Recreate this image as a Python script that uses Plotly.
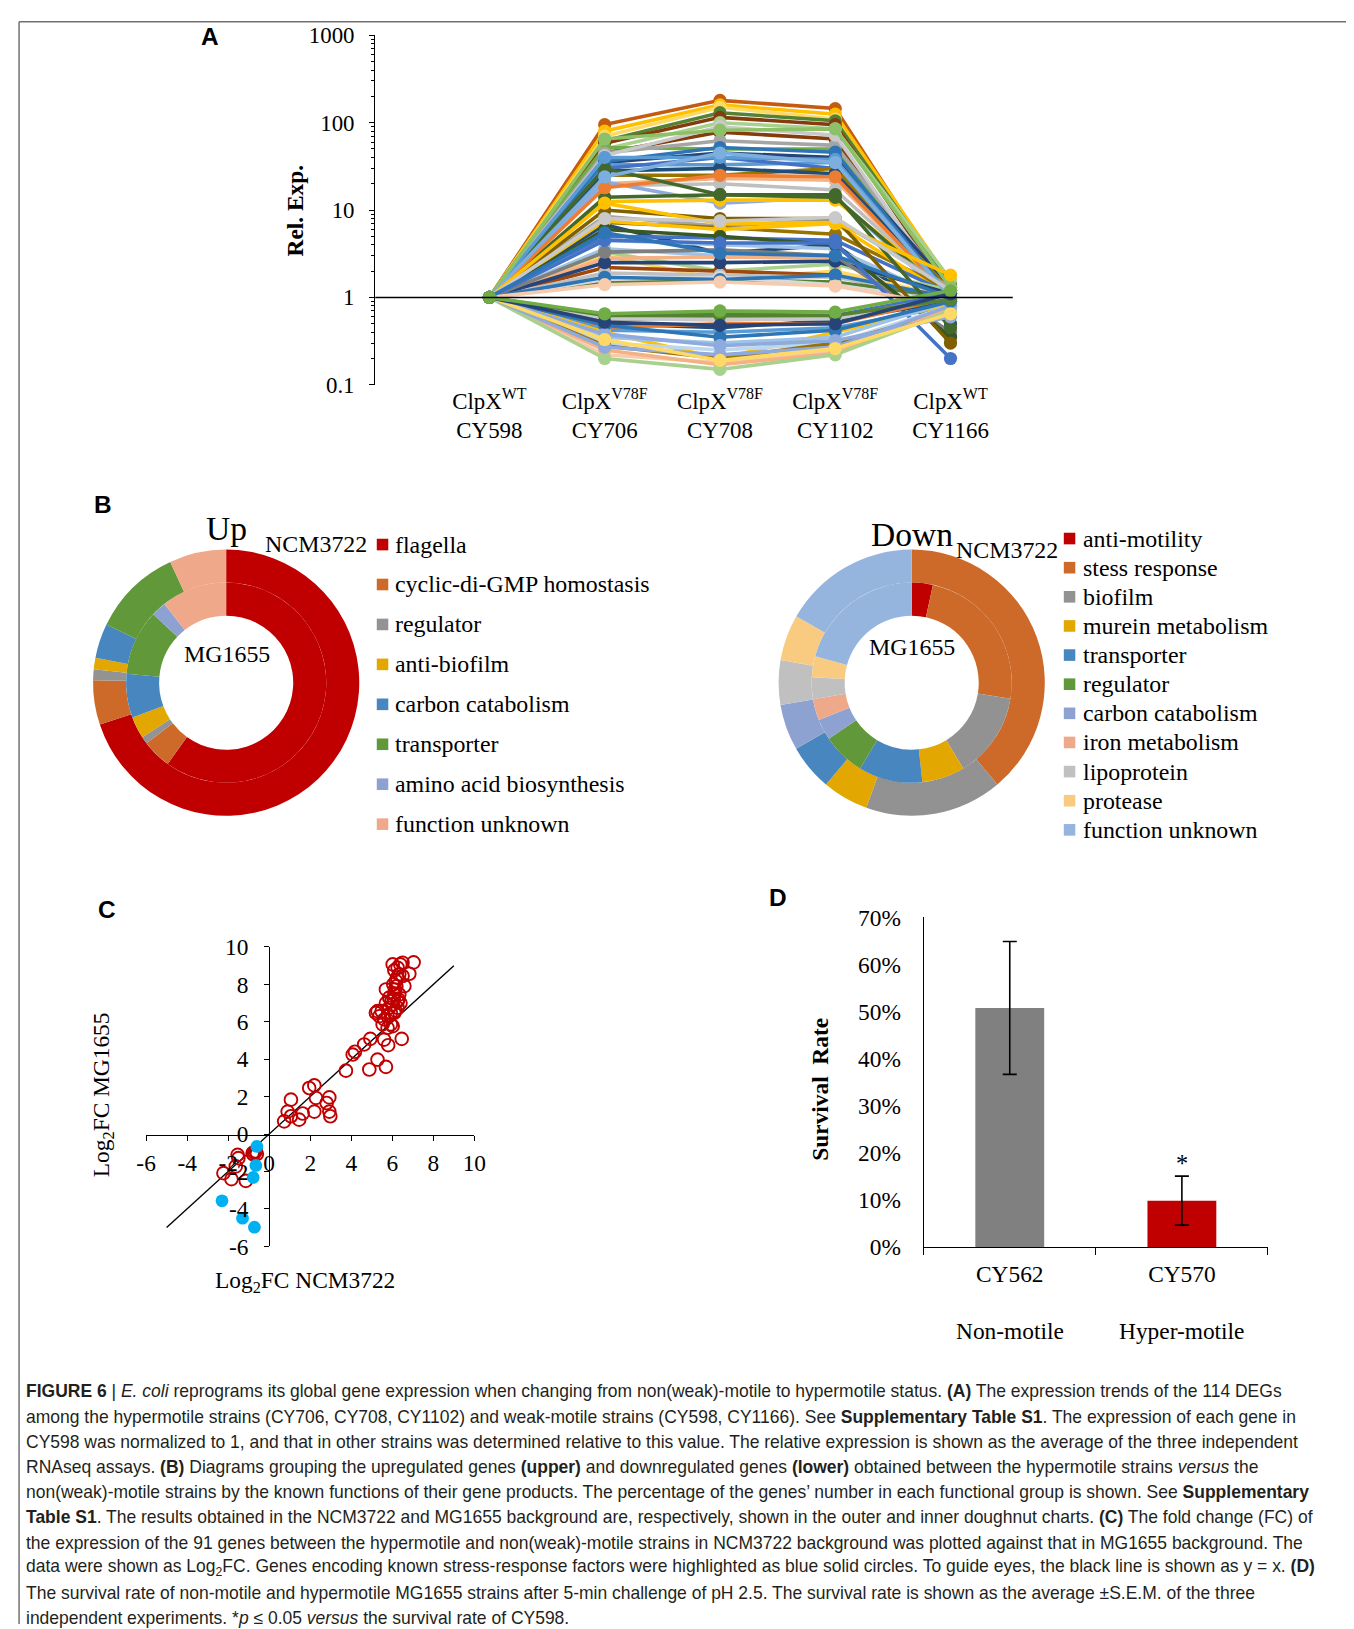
import plotly.graph_objects as go

# The page shows the figure slightly scaled and offset; positions below are given in
# target-window pixels and converted to paper coordinates with that measured mapping.
FW, FH = 1354, 1629
S = 0.983
OX, OY = 19.0, 20.0
def px(x): return (x - OX) / S / FW
def py(y): return 1 - (y - OY) / S / FH
def fs(v): return v / S

SERIF = "Liberation Serif"
SANS = "Liberation Sans"

# ---------------- Panel A data ----------------
strains = ["CY598", "CY706", "CY708", "CY1102", "CY1166"]
genotypes = ["WT", "V78F", "V78F", "V78F", "WT"]

up_expr = [
    [1, 95, 180, 145, 1.3], [1, 80, 160, 125, 1.5], [1, 70, 150, 110, 1.2], [1, 62, 130, 105, 1.4],
    [1, 58, 115, 95, 1.1], [1, 50, 100, 85, 1.6], [1, 45, 78, 65, 0.9], [1, 52, 50, 50, 1.1],
    [1, 45, 62, 55, 1.2], [1, 42, 90, 72, 1.0], [1, 35, 45, 40, 1.3], [1, 33, 33, 35, 1.1],
    [1, 30, 40, 30, 0.8], [1, 25, 25, 30, 1.2], [1, 20, 23, 22, 1.0], [1, 19, 20, 17, 1.1],
    [1, 21, 12, 14, 0.9], [1, 12.5, 13, 13, 1.2], [1, 14, 15, 14, 1.0], [1, 28, 30, 26, 1.1],
    [1, 36, 52, 46, 1.0], [1, 18, 25, 24, 1.0], [1, 8.5, 6.5, 7.8, 1.3], [1, 7.2, 6.3, 5.3, 1.2],
    [1, 6.8, 3.2, 4.0, 0.5], [1, 7.5, 6.0, 7.0, 1.0], [1, 5.0, 4.8, 4.5, 1.1], [1, 4.5, 4.0, 3.6, 0.9],
    [1, 3.6, 3.0, 3.0, 1.0], [1, 3.0, 1.6, 2.0, 1.0], [1, 3.3, 2.0, 2.4, 1.2], [1, 2.8, 2.9, 2.8, 1.0],
    [1, 2.2, 2.0, 1.8, 0.8], [1, 1.9, 1.8, 1.7, 1.0], [1, 1.5, 1.6, 1.5, 1.0], [1, 1.6, 1.7, 1.4, 0.9],
    [1, 2.5, 2.5, 2.6, 1.1], [1, 1.7, 1.6, 1.8, 1.0], [1, 3.3, 3.5, 3.0, 0.4], [1, 6.0, 5.0, 4.0, 0.35],
    [1, 10, 8, 8, 0.3], [1, 30, 15, 15, 0.45], [1, 4.5, 4.2, 4.2, 0.2], [1, 1.4, 1.5, 1.35, 0.8],
    [1, 40, 40, 38, 1.0], [1, 65, 82, 85, 1.3], [1, 24, 45, 35, 1.0], [1, 12, 7, 7.2, 1.8],
    [1, 8, 7.5, 8.2, 1.2], [1, 5.5, 3.2, 3.0, 1.0],
]
down_expr = [
    [1, 0.22, 0.18, 0.25, 0.78], [1, 0.6, 0.65, 0.62, 1.1], [1, 0.55, 0.6, 0.6, 1.0], [1, 0.5, 0.45, 0.55, 0.9],
    [1, 0.45, 0.5, 0.5, 1.0], [1, 0.42, 0.4, 0.45, 0.8], [1, 0.4, 0.2, 0.4, 0.85], [1, 0.35, 0.3, 0.35, 0.9],
    [1, 0.3, 0.25, 0.3, 0.8], [1, 0.28, 0.2, 0.3, 0.7], [1, 0.25, 0.17, 0.23, 0.75], [1, 0.2, 0.15, 0.22, 0.7],
    [1, 0.27, 0.22, 0.27, 0.8], [1, 0.58, 0.55, 0.57, 1.0], [1, 0.48, 0.35, 0.42, 0.9], [1, 0.62, 0.62, 0.62, 0.95],
    [1, 0.38, 0.28, 0.32, 0.6], [1, 0.33, 0.19, 0.26, 0.65], [1, 0.52, 0.48, 0.5, 1.1], [1, 0.65, 0.7, 0.68, 1.2],
]
up_colors = [
    "#C55A11", "#FFC000", "#FFD966", "#548235", "#843C0C", "#A9D18E", "#843C0C", "#70AD47", "#A5A5A5", "#C9C9C9",
    "#264478", "#5B9BD5", "#4472C4", "#997300", "#F4B183", "#BFBFBF", "#8FAADC", "#FFC000", "#43682B", "#1F4E79",
    "#2E75B6", "#ED7D31", "#A5A5A5", "#997300", "#1F4E79", "#FFC000", "#4472C4", "#9DC3E6", "#9DC3E6", "#FFD966",
    "#A9D18E", "#F4B183", "#9E480E", "#BFBFBF", "#548235", "#D9D9D9", "#264478", "#2E75B6", "#7F7F7F", "#385723",
    "#7F6000", "#43682B", "#4472C4", "#F8CBAD", "#5B9BD5", "#8CC168", "#7CAFDD", "#FFC000", "#C9C9C9", "#2E75B6",
]
down_colors = [
    "#F8CBAD", "#4472C4", "#A5A5A5", "#1F4E79", "#ED7D31", "#5B9BD5", "#FFC000", "#9DC3E6", "#BDD7EE", "#997300",
    "#F4B183", "#A9D18E", "#8FAADC", "#C9C9C9", "#2E75B6", "#548235", "#8FAADC", "#FFD966", "#264478", "#70AD47",
]

# ---------------- Panel B data ----------------
up_labels = ["flagella", "cyclic-di-GMP homostasis", "regulator", "anti-biofilm", "carbon catabolism",
             "transporter", "amino acid biosynthesis", "function unknown"]
up_outer_ncm3722 = [69.9, 5.4, 1.3, 1.4, 4.2, 10.9, 0.0, 6.9]
up_inner_mg1655 = [60.0, 4.7, 1.2, 3.5, 7.1, 10.6, 2.4, 10.6]
up_colors_b = ["#C00000", "#CD6A29", "#939393", "#E2A700", "#4886BF", "#60983A", "#8EA2D2", "#F0A88A"]

down_labels = ["anti-motility", "stess response", "biofilm", "murein metabolism", "transporter", "regulator",
               "carbon catabolism", "iron metabolism", "lipoprotein", "protease", "function unknown"]
down_outer_ncm3722 = [0.0, 38.9, 16.7, 5.6, 5.6, 0.0, 5.6, 0.0, 5.4, 5.6, 16.7]
down_inner_mg1655 = [3.4, 24.1, 13.8, 6.9, 10.3, 6.9, 3.4, 3.4, 3.5, 3.4, 20.7]
down_colors_b = ["#C00000", "#CD6A29", "#929292", "#E2A700", "#4886BF", "#60983A", "#8EA2D2", "#EEA88A",
                 "#C0C0C0", "#F9CB80", "#95B5DE"]

# ---------------- Panel C data ----------------
red_x = [0.73, 0.9, 1.06, 1.06, 1.46, 1.63, 1.95, 2.2, 2.2, 2.28, 2.8, 2.93, 2.93, 2.98, 3.74, 4.07, 4.18,
         4.63, 4.93, 4.88, 5.28, 5.69, 5.6, 5.8, 6.46, 5.2, 5.28, 5.37, 5.53, 5.69, 5.85, 5.93, 6.02, 5.77,
         5.61, 5.85, 6.02, 6.07, 6.1, 6.13, 6.18, 6.02, 6.1, 6.26, 6.39, 6.5, 6.34, 6.23, 6.5, 6.59, 6.83,
         7.04, 6.26, 6.34, 5.93, 6.1, 6.26, 5.77, 5.69, 5.48, 6.15, 6.3, 6.4, 5.95, 6.05, 6.2,
         -1.54, -1.5, -1.63, -2.23, -1.84, -1.14, -0.81, -0.73, -0.65, -0.6, -0.76]
red_y = [0.68, 1.2, 1.84, 0.95, 0.77, 1.1, 2.46, 2.6, 1.2, 1.93, 1.66, 1.96, 1.2, 0.95, 3.39, 4.25, 4.4,
         4.79, 5.09, 3.45, 3.98, 3.59, 5.05, 4.75, 5.09, 6.48, 6.57, 6.3, 5.86, 7.73, 7.29, 5.86, 5.77, 5.68,
         6.13, 6.75, 6.93, 7.2, 7.46, 7.73, 8.18, 9.07, 8.75, 8.89, 9.07, 9.16, 8.54, 8.36, 8.45, 7.91, 8.57,
         9.18, 7.1, 7.46, 6.48, 6.48, 6.75, 6.3, 7.0, 6.57, 6.6, 7.2, 7.0, 7.1, 8.0, 7.9,
         -1.11, -1.29, -1.73, -2.09, -2.41, -2.5, -1.02, -0.96, -0.93, -1.07, -1.1]
blue_x = [-0.6, -0.65, -0.78, -2.3, -1.3, -0.72]
blue_y = [-0.66, -1.68, -2.32, -3.57, -4.5, -4.98]
guide_x = [-5, 9]
c_ticks = [-6, -4, -2, 0, 2, 4, 6, 8, 10]

# ---------------- Panel D data ----------------
samples = ["CY562", "CY570"]
phenotypes = ["Non-motile", "Hyper-motile"]
survival = [50.8, 9.9]
survival_sem = [14.1, 5.2]
bar_colors = ["#808080", "#C00000"]

fig = go.Figure()

# ---- Panel A traces ----
for vals, col in zip(up_expr + down_expr, up_colors + down_colors):
    fig.add_trace(go.Scatter(x=strains, y=vals, mode="lines+markers",
                             line=dict(color=col, width=fs(3.5)), marker=dict(color=col, size=fs(13)),
                             xaxis="x", yaxis="y", showlegend=False, hoverinfo="skip"))

# ---- Panel B pies ----
def pie(vals, labels, colors, cx, cy, r, hole):
    return go.Pie(values=vals, labels=labels, marker=dict(colors=colors, line=dict(width=0)),
                  sort=False, direction="clockwise", rotation=0, textinfo="none", hole=hole,
                  showlegend=False, hoverinfo="label+percent",
                  domain=dict(x=[px(cx - r), px(cx + r)], y=[py(cy + r), py(cy - r)]))

fig.add_trace(pie(up_outer_ncm3722, up_labels, up_colors_b, 227, 681, 133, 100 / 133))
fig.add_trace(pie(up_inner_mg1655, up_labels, up_colors_b, 227, 681, 100, 0.67))
fig.add_trace(pie(down_outer_ncm3722, down_labels, down_colors_b, 912, 681, 133, 100 / 133))
fig.add_trace(pie(down_inner_mg1655, down_labels, down_colors_b, 912, 681, 100, 0.67))

# ---- Panel C traces ----
fig.add_trace(go.Scatter(x=guide_x, y=guide_x, mode="lines", line=dict(color="black", width=1.4),
                         xaxis="x2", yaxis="y2", showlegend=False, hoverinfo="skip"))
fig.add_trace(go.Scatter(x=red_x, y=red_y, mode="markers",
                         marker=dict(symbol="circle-open", size=fs(12.5), color="#C00000", line=dict(width=1.9)),
                         xaxis="x2", yaxis="y2", showlegend=False))
fig.add_trace(go.Scatter(x=blue_x, y=blue_y, mode="markers",
                         marker=dict(symbol="circle", size=fs(12.5), color="#00B0F0"),
                         xaxis="x2", yaxis="y2", showlegend=False))

# ---- Panel D ----
fig.add_trace(go.Bar(x=samples, y=survival, width=0.4, marker=dict(color=bar_colors, line=dict(width=0)),
                     error_y=dict(type="data", array=survival_sem, color="black", thickness=1.6, width=7),
                     xaxis="x3", yaxis="y3", showlegend=False))

# ---- axes ----
A_top, A_bot = 34.3, 383.4
tf = dict(family=SERIF, size=fs(22.5), color="black")
fig.update_layout(
    xaxis=dict(domain=[px(376), px(1013)], range=[-0.99, 4.54], type="category", anchor="y",
               tickvals=strains, ticktext=[f"ClpX<sup>{g}</sup><br>{s}" for g, s in zip(genotypes, strains)],
               showline=False, showgrid=False, zeroline=False, ticks="", ticklabelstandoff=0,
               tickfont=dict(family=SERIF, size=fs(22.5), color="black")),
    yaxis=dict(domain=[py(A_bot), py(A_top)], type="log", range=[-1, 3], dtick=1, exponentformat="none",
               anchor="x", showline=True, linecolor="black", linewidth=1.3, ticks="outside", ticklen=5,
               tickcolor="black", showgrid=False, zeroline=False, tickfont=tf, ticklabelstandoff=10,
               minor=dict(ticks="outside", ticklen=3, tickcolor="black", showgrid=False)),
    xaxis2=dict(domain=[px(147), px(475)], range=[-6, 10], anchor="free",
                position=py(1132.7), tickvals=c_ticks, ticktext=[str(t) for t in c_ticks],
                showline=True, linecolor="black", linewidth=1.3, ticks="outside", ticklen=5,
                tickcolor="black", showgrid=False, zeroline=False, ticklabelstandoff=2,
                tickfont=dict(family=SERIF, size=fs(23), color="black")),
    yaxis2=dict(domain=[py(1244), py(945)], range=[-6, 10], anchor="free", position=px(270),
                tickvals=c_ticks, ticktext=[str(t) for t in c_ticks],
                showline=True, linecolor="black", linewidth=1.3, ticks="outside", ticklen=5,
                tickcolor="black", showgrid=False, zeroline=False, ticklabelstandoff=11,
                tickfont=dict(family=SERIF, size=fs(23), color="black")),
    xaxis3=dict(domain=[px(924), px(1268)], type="category", range=[-0.5, 1.5], anchor="y3",
                showline=True, linecolor="black", linewidth=1.3, ticks="outside", tickson="boundaries",
                ticklen=7, tickcolor="black", showgrid=False, zeroline=False, ticklabelstandoff=5,
                tickfont=dict(family=SERIF, size=fs(23), color="black")),
    yaxis3=dict(domain=[py(1245), py(915.5)], range=[0, 70], dtick=10, ticksuffix="%", anchor="x3",
                showline=True, linecolor="black", linewidth=1.3, ticks="", showgrid=False, zeroline=False,
                ticklabelstandoff=17, tickfont=dict(family=SERIF, size=fs(23), color="black")),
)

shapes = []
anns = []

# horizontal reference line at Rel. Exp. = 1 (log10(1)=0 within range [-1, 3])
y_one = A_bot - (0 - (-1)) / 4 * (A_bot - A_top)
shapes.append(dict(type="line", xref="paper", yref="paper", x0=px(376), x1=px(1013), y0=py(y_one), y1=py(y_one),
                   line=dict(color="black", width=1.5), layer="above"))

# figure border (top, left, right) kept just inside the drawable area
bl, bt, br = 0.0008, 0.9995, px(1347.5)
for (x0, y0, x1, y1) in [(bl, bt, br, bt), (bl, bt, bl, 0), (br, bt, br, 0)]:
    shapes.append(dict(type="line", xref="paper", yref="paper", x0=x0, y0=y0, x1=x1, y1=y1,
                       line=dict(color="#707070", width=1.5)))

def ann(text, x, y, size=23, family=SERIF, bold=False, angle=0, xanchor="center", color="black"):
    if bold:
        text = f"<b>{text}</b>"
    anns.append(dict(text=text, x=px(x), y=py(y), xref="paper", yref="paper", showarrow=False,
                     textangle=angle, xanchor=xanchor, yanchor="middle",
                     font=dict(family=family, size=fs(size), color=color)))

# panel letters
for letter, (lx, ly) in {"A": (211, 35), "B": (104, 503), "C": (108, 908), "D": (778, 896)}.items():
    ann(letter, lx, ly, size=24, family=SANS, bold=True)

# panel A title
ann("Rel. Exp.", 296, 209, size=23, bold=True, angle=-90)

# panel B texts
ann("Up", 227, 527, size=33)
ann("NCM3722", 317, 542, size=23.5)
ann("MG1655", 228, 652, size=23.5)
ann("Down", 912, 533, size=33)
ann("NCM3722", 1007, 548, size=23.5)
ann("MG1655", 912, 645, size=23.5)

for i, (lab, col) in enumerate(zip(up_labels, up_colors_b)):
    yc = 543 + i * 39.9
    shapes.append(dict(type="rect", xref="paper", yref="paper", x0=px(377.5), x1=px(389), y0=py(yc + 5.8), y1=py(yc - 5.8),
                       fillcolor=col, line=dict(width=0)))
    ann(lab, 394, yc, size=23.5, xanchor="left")
for i, (lab, col) in enumerate(zip(down_labels, down_colors_b)):
    yc = 537 + i * 29.1
    shapes.append(dict(type="rect", xref="paper", yref="paper", x0=px(1064), x1=px(1075.5), y0=py(yc + 5.8), y1=py(yc - 5.8),
                       fillcolor=col, line=dict(width=0)))
    ann(lab, 1081, yc, size=23.5, xanchor="left")

# panel C titles
ann("Log<sub>2</sub>FC MG1655", 104, 1093, size=23, angle=-90)
ann("Log<sub>2</sub>FC NCM3722", 306, 1280, size=23)

# panel D texts
ann("Survival  Rate", 821, 1087, size=23, bold=True, angle=-90)
anns.append(dict(text="*", x=samples[1], y=survival[1] + survival_sem[1] + 2.6, xref="x3", yref="y3",
                 showarrow=False, font=dict(family=SERIF, size=fs(24), color="black")))
for s, p in zip(samples, phenotypes):
    anns.append(dict(text=p, x=s, y=py(1329), xref="x3", yref="paper", showarrow=False, yanchor="middle",
                     font=dict(family=SERIF, size=fs(23), color="black")))

# caption
caption = [
    "<b>FIGURE 6</b> | <i>E. coli</i> reprograms its global gene expression when changing from non(weak)-motile to hypermotile status. <b>(A)</b> The expression trends of the 114 DEGs",
    "among the hypermotile strains (CY706, CY708, CY1102) and weak-motile strains (CY598, CY1166). See <b>Supplementary Table S1</b>. The expression of each gene in",
    "CY598 was normalized to 1, and that in other strains was determined relative to this value. The relative expression is shown as the average of the three independent",
    "RNAseq assays. <b>(B)</b> Diagrams grouping the upregulated genes <b>(upper)</b> and downregulated genes <b>(lower)</b> obtained between the hypermotile strains <i>versus</i> the",
    "non(weak)-motile strains by the known functions of their gene products. The percentage of the genes’ number in each functional group is shown. See <b>Supplementary</b>",
    "<b>Table S1</b>. The results obtained in the NCM3722 and MG1655 background are, respectively, shown in the outer and inner doughnut charts. <b>(C)</b> The fold change (FC) of",
    "the expression of the 91 genes between the hypermotile and non(weak)-motile strains in NCM3722 background was plotted against that in MG1655 background. The",
    "data were shown as Log<sub>2</sub>FC. Genes encoding known stress-response factors were highlighted as blue solid circles. To guide eyes, the black line is shown as y = x. <b>(D)</b>",
    "The survival rate of non-motile and hypermotile MG1655 strains after 5-min challenge of pH 2.5. The survival rate is shown as the average ±S.E.M. of the three",
    "independent experiments. *<i>p</i> ≤ 0.05 <i>versus</i> the survival rate of CY598.",
]
for i, line in enumerate(caption):
    ann(line, 25, 1389 + i * 25.15, size=17.2, family=SANS, xanchor="left", color="#231F20")

fig.update_layout(width=FW, height=FH, margin=dict(l=0, r=0, t=0, b=0),
                  paper_bgcolor="white", plot_bgcolor="rgba(0,0,0,0)",
                  shapes=shapes, annotations=anns, showlegend=False)

fig.write_html("out.html")
